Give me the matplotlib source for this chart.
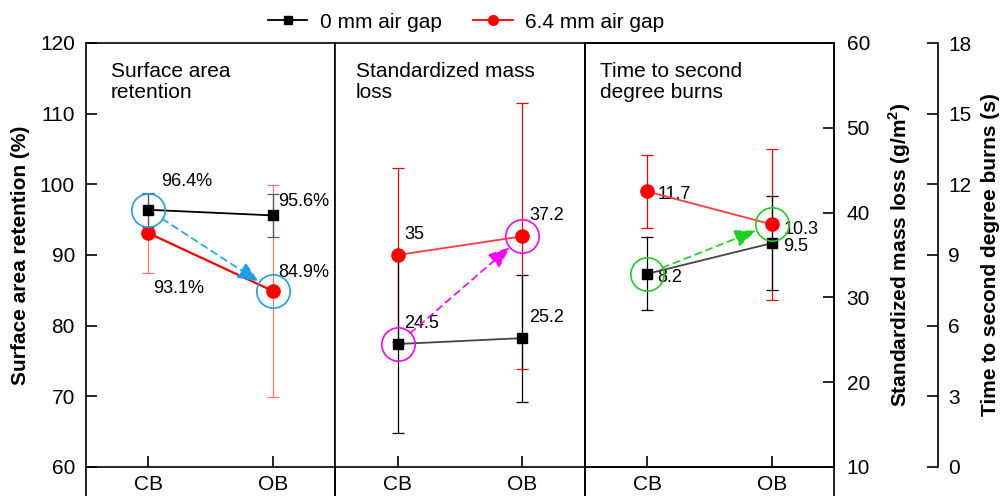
import matplotlib.pyplot as plt
from matplotlib.lines import Line2D

plt.rcParams['font.family'] = ['Liberation Sans', 'DejaVu Sans']
plt.rcParams['mathtext.fontset'] = 'custom'
plt.rcParams['mathtext.rm'] = 'Liberation Sans'
plt.rcParams['mathtext.bf'] = 'Liberation Sans:bold'
plt.rcParams['axes.linewidth'] = 1.2

groups = ['CB', 'OB']

# surface area retention (%), mean and sd
sar_0mm = [96.4, 95.6]
sar_0mm_sd = [2.4, 3.0]
sar_64mm = [93.1, 84.9]
sar_64mm_sd = [5.6, 15.0]

# standardized mass loss (g/m2)
mass_0mm = [24.5, 25.2]
mass_0mm_sd = [10.5, 7.5]
mass_64mm = [35.0, 37.2]
mass_64mm_sd = [10.3, 15.7]

# time to second degree burns (s)
burn_0mm = [8.2, 9.5]
burn_0mm_sd = [1.55, 2.0]
burn_64mm = [11.7, 10.3]
burn_64mm_sd = [1.55, 3.2]

series_names = ['0 mm air gap', '6.4 mm air gap']

x = list(range(len(groups)))

fig = plt.figure(figsize=(10.06, 4.96), dpi=100)
gs = fig.add_gridspec(1, 3, left=86 / 1006, right=834 / 1006,
                      bottom=29 / 496, top=453 / 496, wspace=0)
ax1 = fig.add_subplot(gs[0])
ax2 = fig.add_subplot(gs[1])
ax3 = fig.add_subplot(gs[2])


def draw_pair(ax, y0, e0, y1, e1, c0, c1, ec0, ec1, lw1=1.3):
    ax.errorbar(x, y1, yerr=e1, color=c1, lw=lw1, ecolor=ec1, elinewidth=0.9,
                capsize=4, capthick=0.9, marker='o', ms=9.5, mfc='red',
                mec='red', zorder=3)
    ax.errorbar(x, y0, yerr=e0, color=c0, lw=1.3, ecolor=ec0, elinewidth=0.9,
                capsize=4, capthick=0.9, marker='s', ms=7.5, mfc='black',
                mec='black', zorder=3)


def highlight(ax, x0, y0, x1, y1, color):
    ax.plot([x0, x1], [y0, y1], ls='none', marker='o', ms=24, mfc='none',
            mec=color, mew=1.2, zorder=4)
    ax.annotate('', xy=(x1, y1), xytext=(x0, y0),
                arrowprops=dict(arrowstyle='-|>,head_length=1.1,head_width=0.45',
                                ls=(0, (4, 3)), color=color, lw=1.2,
                                mutation_scale=12, shrinkA=12, shrinkB=12),
                zorder=4)


def label_points(ax, xs, ys, fmt, offsets, va='center'):
    for xi, yi, off in zip(xs, ys, offsets):
        ax.annotate(fmt.format(yi), (xi, yi), xytext=off, textcoords='offset points',
                    ha='left', va=va, fontsize=13)


# panel 1: surface area retention
draw_pair(ax1, sar_0mm, sar_0mm_sd, sar_64mm, sar_64mm_sd,
          'black', 'red', '#555555', '#ff7777', lw1=1.6)
highlight(ax1, 0, sar_0mm[0], 1, sar_64mm[1], '#1e9fe6')
label_points(ax1, x, sar_0mm, '{:.1f}%', [(9, 20), (4, 10)])
label_points(ax1, x, sar_64mm, '{:.1f}%', [(3.5, -40), (4, 13)])
ax1.set_ylim(60, 120)
ax1.set_yticks(range(60, 121, 10))
ax1.set_ylabel('Surface area retention (%)', fontsize=15, fontweight='bold', labelpad=7)

# panel 2: standardized mass loss
draw_pair(ax2, mass_0mm, mass_0mm_sd, mass_64mm, mass_64mm_sd,
          '#444444', '#ff3b3b', 'black', 'red')
highlight(ax2, 0, mass_0mm[0], 1, mass_64mm[1], '#ff00ff')
label_points(ax2, x, mass_0mm, '{:g}', [(4.5, 15), (5, 14.5)])
label_points(ax2, x, mass_64mm, '{:g}', [(4.5, 15), (5, 15)])
ax2.set_ylim(10, 60)

# panel 3: time to second degree burns
draw_pair(ax3, burn_0mm, burn_0mm_sd, burn_64mm, burn_64mm_sd,
          '#444444', '#ff3b3b', 'black', 'red')
highlight(ax3, 0, burn_0mm[0], 1, burn_64mm[1], '#1fcf1f')
label_points(ax3, x, burn_0mm, '{:g}', [(7.5, -2.5), (8.5, -2.5)])
label_points(ax3, x, burn_64mm, '{:g}', [(7.5, -2.5), (8.5, -3.5)])
ax3.set_ylim(0, 18)

# right-hand scales for the mass loss and burn time panels
ax_mass = ax3.twinx()
ax_mass.set_ylim(10, 60)
ax_mass.set_yticks(range(10, 61, 10))
ax_mass.tick_params(axis='y', direction='in', length=8, width=1.2, labelsize=15, pad=9)
ax_mass.set_ylabel('Standardized mass loss (g/m$^{\\mathbf{2}}$)', fontsize=15,
                   fontweight='bold', labelpad=12)

ax_time = ax3.twinx()
ax_time.spines['right'].set_position(('outward', 75))
for s in ['top', 'bottom', 'left']:
    ax_time.spines[s].set_visible(False)
ax_time.set_ylim(0, 18)
ax_time.set_yticks(range(0, 19, 3))
ax_time.tick_params(axis='y', direction='in', length=8, width=1.2, labelsize=15, pad=7)
ax_time.set_ylabel('Time to second degree burns (s)', fontsize=15,
                   fontweight='bold', labelpad=7)

titles = ['Surface area\nretention', 'Standardized mass\nloss', 'Time to second\ndegree burns']
title_x = [0.1, 0.082, 0.061]
for ax, t, tx in zip([ax1, ax2, ax3], titles, title_x):
    ax.text(tx, 0.955, t, transform=ax.transAxes, ha='left', va='top',
            fontsize=15, linespacing=1.15)
    ax.set_xlim(-0.5, 1.5)
    ax.set_xticks(x)
    ax.set_xticklabels(groups)
    ax.tick_params(axis='x', direction='in', length=8, width=1.2, labelsize=15, pad=6)
    ax.tick_params(axis='y', direction='in', length=8, width=1.2, labelsize=15, pad=8)

for ax in [ax2, ax3]:
    ax.tick_params(axis='y', left=False, right=False, labelleft=False, labelright=False)

# panel dividers carried down below the axes
for ax in [ax1, ax2, ax3]:
    pos = ax.get_position()
    for xe in (pos.x0, pos.x1):
        fig.add_artist(Line2D([xe, xe], [0, pos.y0], color='black', lw=1.2))

handles = [Line2D([], [], color='black', lw=1.3, marker='s', ms=6),
           Line2D([], [], color='red', lw=1.3, marker='o', ms=7)]
fig.legend(handles, series_names, loc='center', bbox_to_anchor=(466 / 1006, 1 - 22 / 496),
           ncol=2, frameon=False, fontsize=15, handlelength=1.9, handletextpad=0.6,
           columnspacing=1.5, borderaxespad=0)

fig.savefig('out.png', dpi=100)
